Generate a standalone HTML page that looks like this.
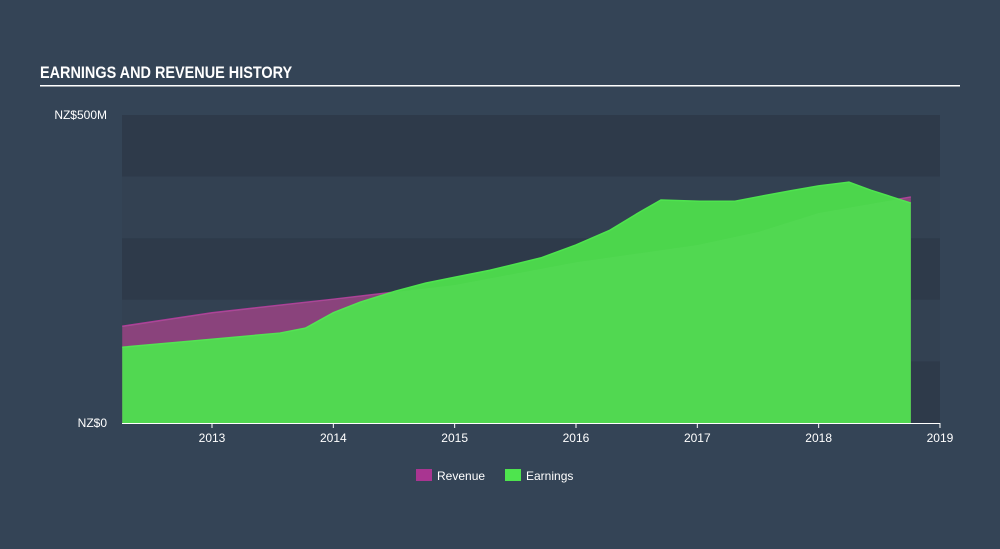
<!DOCTYPE html>
<html><head><meta charset="utf-8"><style>
body{margin:0;background:#344456;font-family:"Liberation Sans",sans-serif;}
svg text{font-family:"Liberation Sans",sans-serif;}
</style></head><body>
<svg width="1000" height="544" viewBox="0 0 1000 544">
<rect width="1000" height="544" fill="#344456"/>
<text x="40" y="78" fill="#fff" font-size="17" font-weight="bold" transform="scale(0.85,1)" style="transform-origin:40px 78px">EARNINGS AND REVENUE HISTORY</text>
<rect x="40" y="85" width="920" height="1.5" fill="#fff"/>
<g id="bands"></g>
<g id="series"></g>
<g id="axes"></g>
<g>
<rect x="416" y="469" width="16" height="12" fill="#a93591"/>
<text x="437" y="480" fill="#fff" font-size="12">Revenue</text>
<rect x="505" y="469" width="16" height="12" fill="#4ee44e"/>
<text x="526" y="480" fill="#fff" font-size="12">Earnings</text>
</g>
</svg>
<script>
const earnT=[2012.26,2013.0,2013.56,2013.77,2014.0,2014.22,2014.51,2014.76,2015.01,2015.29,2015.71,2016.0,2016.28,2016.53,2016.7,2017.02,2017.31,2017.52,2017.77,2018.0,2018.25,2018.43,2018.76];
const earnV=[123,136,146,154,179,196,214,227,237,248,268,289,313,343,362,360,360,368,377,385,391,378,357];
const revT=[2012.26,2013.0,2014.0,2015.0,2016.0,2017.0,2017.5,2018.0,2018.76];
const revV=[157,179,201,224,261,289,310,341,367];
const xTicks=[2013,2014,2015,2016,2017,2018,2019];
const yTickVals=[0,500];
const yTickLabels=["NZ$0","NZ$500M"];
const NS="http://www.w3.org/2000/svg";
const X0=122,X1=940,Y0=423,Y1=115;
const x=t=>212+(t-2013)*121.33;
const y=v=>Y0-(v/500)*(Y0-Y1);
function mk(tag,attrs,parent){const e=document.createElementNS(NS,tag);for(const k in attrs)e.setAttribute(k,attrs[k]);parent.appendChild(e);return e;}
const bands=document.getElementById('bands');
for(let i=0;i<5;i++){
 const r=mk('rect',{x:X0,y:Y1+i*(Y0-Y1)/5,width:X1-X0,height:(Y0-Y1)/5,fill:i%2==0?'#2e3a4a':'#334152'},bands);
 
 
}
function area(T,V,fill,stroke,name){
 const g=document.getElementById('series');
 let d='M'+x(T[0])+','+Y0;
 T.forEach((t,i)=>d+=' L'+x(t)+','+y(V[i]));
 d+=' L'+x(T[T.length-1])+','+Y0+' Z';
 const p=mk('path',{d:d,fill:fill},g);
 
 
 let l='M'+T.map((t,i)=>x(t)+','+y(V[i])).join(' L');
 const ln=mk('path',{d:l,fill:'none',stroke:stroke,'stroke-width':1.5},g);
 
 
}
area(revT,revV,'#8c2d7d','#b0399a','revenue');
area(earnT,earnV,'#4cd64c','#4ee44e','earnings');
{const g=document.getElementById('series');
 let d='M'+x(revT[0])+','+Y0;
 revT.forEach((t,i)=>d+=' L'+x(t)+','+y(Math.min(revV[i],earnV.length?revV[i]:0)));
 d+=' L'+x(revT[revT.length-1])+','+Y0+' Z';
 const o=mk('path',{d:d,fill:'rgba(120,230,120,0.12)'},g);
 
 }
const ax=document.getElementById('axes');
const base=mk('line',{x1:X0,x2:X1,y1:Y0+0.5,y2:Y0+0.5,stroke:'#fff','stroke-width':1},ax);


xTicks.forEach(t=>{
 const tk=mk('line',{x1:x(t),x2:x(t),y1:Y0,y2:Y0+5,stroke:'#fff'},ax);
 
 
 const tx=mk('text',{x:x(t),y:Y0+19,fill:'#fff','font-size':12,'text-anchor':'middle'},ax);
 tx.textContent=t;
 
 
});
yTickVals.forEach((v,i)=>{
 const tx=mk('text',{x:107,y:y(v)+(v==0?4:4),fill:'#fff','font-size':12,'text-anchor':'end'},ax);
 tx.textContent=yTickLabels[i];
 
 
});
</script>
</body></html>
